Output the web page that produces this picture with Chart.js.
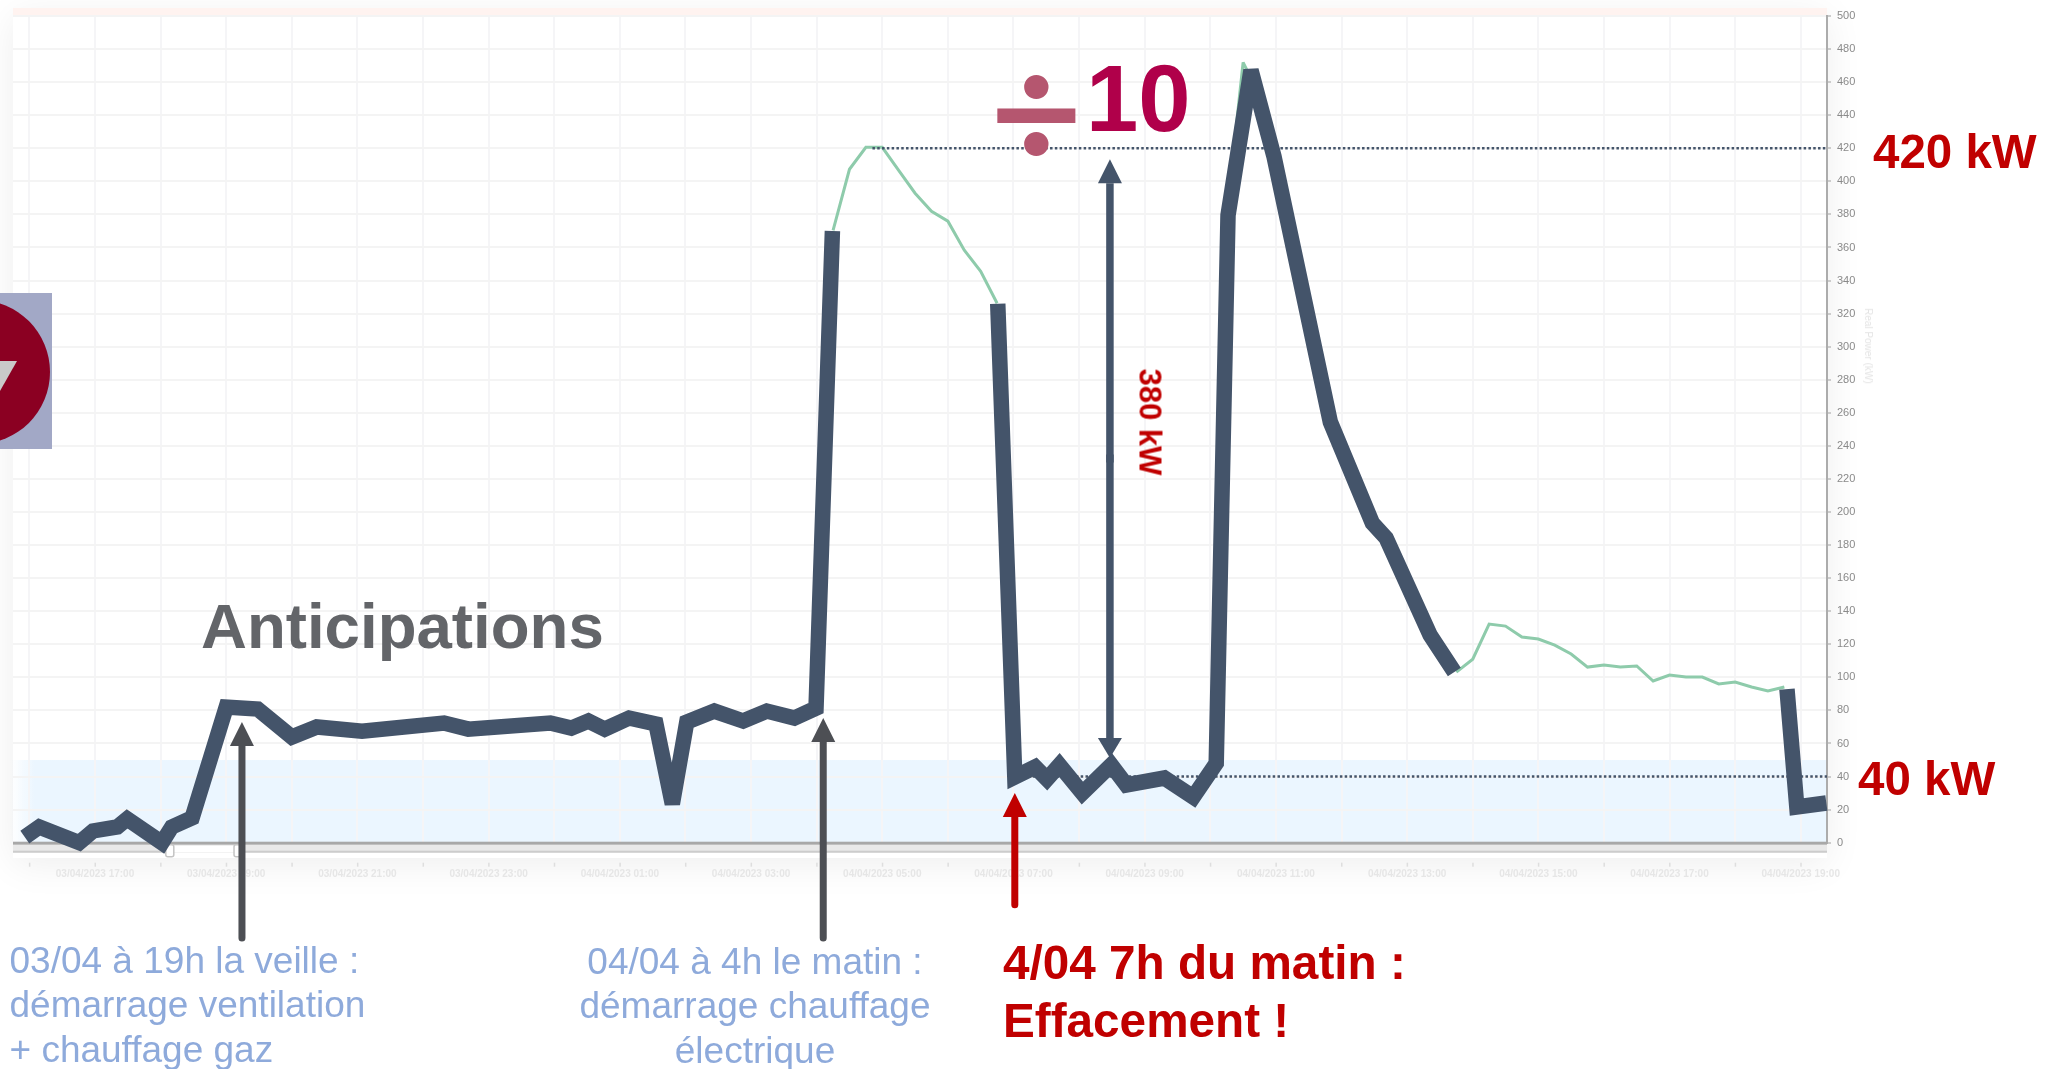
<!DOCTYPE html>
<html lang="fr">
<head>
<meta charset="utf-8">
<title>Effacement</title>
<script src="https://cdn.jsdelivr.net/npm/chart.js@4/dist/chart.umd.min.js"></script>
<style>
html,body{margin:0;padding:0;background:#fff;width:2064px;height:1069px;overflow:hidden;font-family:"Liberation Sans",Arial,sans-serif}
#shadow{position:absolute;left:13px;top:10px;width:1814px;height:848px;background:#fff;box-shadow:0 6px 36px rgba(0,0,0,.07)}
canvas{position:absolute;left:0;top:0}
.t{position:absolute;white-space:nowrap;line-height:1}
.b{font-weight:bold}
.red{color:#c00000}
.blue{color:#8eaadb;font-size:37px;line-height:44.5px}
</style>
</head>
<body>
<div id="shadow"></div>
<canvas id="c" width="2064" height="1069"></canvas>
<svg style="position:absolute;left:0;top:293px" width="52" height="156" viewBox="0 0 52 156">
<rect width="52" height="156" fill="#a2a8c6"/>
<circle cx="-22" cy="79" r="72" fill="#8b0022"/>
<polygon points="17,68 -20,68 -8,112" fill="#c9c9c9"/>
</svg>
<div class="t b" style="left:201px;top:594px;font-size:63.6px;color:#636569">Anticipations</div>
<div class="t b" style="left:990px;top:27px;font-size:160px;font-family:Lato,'Liberation Sans';color:#b5566f">÷</div>
<div class="t b" style="left:1086px;top:52px;font-size:94px;color:#b0004a">10</div>
<div class="t b red" style="left:1873px;top:128px;font-size:47.5px">420 kW</div>
<div class="t b red" style="left:1858px;top:755px;font-size:47.5px">40 kW</div>
<div class="t b red" style="left:1150px;top:422px;font-size:31px;transform:translate(-50%,-50%) rotate(90deg)">380 kW</div>
<div class="t blue" style="left:9.5px;top:938.5px">03/04 à 19h la veille :<br>démarrage ventilation<br>+ chauffage gaz</div>
<div class="t blue" style="left:505px;width:500px;text-align:center;top:939.5px">04/04 à 4h le matin :<br>démarrage chauffage<br>électrique</div>
<div class="t b red" style="left:1003px;top:933.5px;font-size:47.7px;line-height:58px">4/04 7h du matin :<br>Effacement !</div>
<div class="t" style="left:1868px;top:346px;font-size:10px;color:#e4e4e4;transform:translate(-50%,-50%) rotate(90deg)">Real Power (kW)</div>
<script>
// hours are counted from 03/04/2023 00:00
const tickHours = [16,17,18,19,20,21,22,23,24,25,26,27,28,29,30,31,32,33,34,35,36,37,38,39,40,41,42,43];
const tickLabels = ["","03/04/2023 17:00","","03/04/2023 19:00","","03/04/2023 21:00","","03/04/2023 23:00","","04/04/2023 01:00","","04/04/2023 03:00","","04/04/2023 05:00","","04/04/2023 07:00","","04/04/2023 09:00","","04/04/2023 11:00","","04/04/2023 13:00","","04/04/2023 15:00","","04/04/2023 17:00","","04/04/2023 19:00"];

const thickAHours = [15.93,16.15,16.76,16.97,17.34,17.49,18.02,18.17,18.48,19.0,19.48,20.0,20.38,21.07,22.32,22.69,23.94,24.26,24.52,24.77,25.14,25.55,25.80,26.02,26.44,26.88,27.24,27.66,27.99,28.24];
const thickAPower = [3.4,9.5,0,7.1,9.5,14.4,0,9.5,15,82,80.8,63.9,70,67.5,72.4,68.7,72.4,69.3,73.6,68.7,75.4,71.8,23.4,73,79.6,73.6,79.6,75.4,81.4,370];

const thickBHours = [30.76,31.02,31.33,31.51,31.70,32.05,32.49,32.72,33.30,33.74,34.09,34.27,34.62,34.97,35.83,36.47,36.68,37.35,37.72];
const thickBPower = [326,39.7,45.8,38.5,47,30,47,34.9,39.1,27.6,48,379.5,467.2,415.2,254.4,193.3,184.3,125.6,103.2];

const thickCHours = [42.79,42.94,43.39];
const thickCPower = [92.9,21.6,24];

const greenHours = [28.25,28.5,28.75,29,29.25,29.5,29.75,30,30.25,30.5,30.75,34.25,34.5,34.75,35,37.75,38,38.25,38.5,38.75,39,39.25,39.5,39.75,40,40.25,40.5,40.75,41,41.25,41.5,41.75,42,42.25,42.5,42.75];
const greenPower = [370.4,407.3,420.6,420.6,406.7,392.8,381.9,375.9,358.3,345.6,326.3,379.5,472,452,415,103.2,111,132.2,131,124.4,123.2,119.5,114.1,106.2,107.4,106.2,106.9,97.8,101.4,100.2,100.2,96,97.2,94.2,91.8,94.2];

const refHighHours = [28.85,43.4];
const refHighPower = [420,420];
const refLowHours = [31.0,43.4];
const refLowPower = [40,40];

// annotation arrows: [hour, tail kW, tip kW]
const greyArrows = [[19.24,-57.6,73],[28.10,-57.6,75.4]];
const redArrow = [31.02,-37.6,30];
const doubleArrow = [32.47,413.4,51.2];
const bandPower = [0,50];
const sliderHours = [18.14,19.18];

const pts = (xs,ys)=>xs.map((x,i)=>({x,y:ys[i]}));
const thick = d=>({data:d,borderColor:'#44546a',borderWidth:15.5,pointRadius:0,tension:0,clip:false,order:0,borderJoinStyle:'miter',borderCapStyle:'butt'});

function arrow(ctx,x,y1,y2,color,head,shaft,roundTail){
  const dir = y2<y1?1:-1;
  ctx.save();
  ctx.fillStyle=color;ctx.strokeStyle=color;ctx.lineWidth=shaft;ctx.lineCap=roundTail?'round':'butt';
  ctx.beginPath();ctx.moveTo(x,y1);ctx.lineTo(x,y2+dir*head);ctx.stroke();
  ctx.beginPath();ctx.moveTo(x,y2);ctx.lineTo(x-12,y2+dir*head);ctx.lineTo(x+12,y2+dir*head);ctx.closePath();ctx.fill();
  ctx.restore();
}

const decor = {
  id:'decor',
  beforeDraw(c){
    const {ctx,chartArea:a,scales:{y}}=c;
    ctx.save();
    ctx.fillStyle='#fff3f0';
    ctx.fillRect(a.left,a.top-8,a.right-a.left,8);
    const g=ctx.createLinearGradient(a.left-3,0,a.left+22,0);
    g.addColorStop(0,'rgba(235,246,255,0)');g.addColorStop(1,'#ebf6ff');
    ctx.fillStyle=g;
    const top=y.getPixelForValue(bandPower[1]),bot=y.getPixelForValue(bandPower[0]);
    ctx.fillRect(a.left-3,top,a.right-a.left+3,bot-top);
    ctx.restore();
  },
  beforeDatasetsDraw(c){
    const {ctx,chartArea:a,scales:{x}}=c;
    ctx.save();
    const bot=a.bottom;
    ctx.fillStyle='#e9e9e9';ctx.fillRect(a.left,bot+2,a.right-a.left,8);
    ctx.fillStyle='#a8a8a8';ctx.fillRect(a.left,bot-1,a.right-a.left,3);
    ctx.fillStyle='#cccccc';ctx.fillRect(a.left,bot+8,a.right-a.left,2);
    const s1=x.getPixelForValue(sliderHours[0]),s2=x.getPixelForValue(sliderHours[1]);
    ctx.fillStyle='#fff';ctx.fillRect(s1,bot+3,s2-s1,7);
    ctx.strokeStyle='#c4c4c4';ctx.lineWidth=1.5;ctx.fillStyle='#fff';
    [s1,s2].forEach(p=>{ctx.beginPath();ctx.roundRect(p-4,bot+2,8,12,2);ctx.fill();ctx.stroke();});
    ctx.fillStyle='#dedede';
    tickHours.forEach(h=>{ctx.fillRect(x.getPixelForValue(h)-.5,bot+20,1.5,4);});
    ctx.restore();
    ctx.miterLimit=2.6;
  },
  afterDatasetsDraw(c){
    const {ctx,scales:{x,y}}=c;
    greyArrows.forEach(([h,t,p])=>arrow(ctx,x.getPixelForValue(h),y.getPixelForValue(t),y.getPixelForValue(p),'#4d4f54',24,7,true));
    arrow(ctx,x.getPixelForValue(redArrow[0]),y.getPixelForValue(redArrow[1]),y.getPixelForValue(redArrow[2]),'#c00000',24,7,true);
    const dx=x.getPixelForValue(doubleArrow[0]),dt=y.getPixelForValue(doubleArrow[1]),db=y.getPixelForValue(doubleArrow[2]),mid=(dt+db)/2;
    arrow(ctx,dx,mid+4,dt,'#44546a',24,7.5,false);
    arrow(ctx,dx,mid-4,db,'#44546a',20,7.5,false);
  }
};

new Chart(document.getElementById('c'),{
  type:'line',
  plugins:[decor],
  data:{datasets:[
    thick(pts(thickAHours,thickAPower)),
    thick(pts(thickBHours,thickBPower)),
    thick(pts(thickCHours,thickCPower)),
    {data:pts(refHighHours,refHighPower),borderColor:'#44546a',borderWidth:2.5,borderDash:[2.5,2.3],pointRadius:0,order:1,clip:false},
    {data:pts(refLowHours,refLowPower),borderColor:'#44546a',borderWidth:2.5,borderDash:[2.5,2.3],pointRadius:0,order:1,clip:false},
    {data:pts(greenHours.slice(0,11),greenPower.slice(0,11)),borderColor:'#8ecbab',borderWidth:3,pointRadius:0,tension:0,order:2},
    {data:pts(greenHours.slice(11,15),greenPower.slice(11,15)),borderColor:'#8ecbab',borderWidth:3,pointRadius:0,tension:0,order:2},
    {data:pts(greenHours.slice(15),greenPower.slice(15)),borderColor:'#8ecbab',borderWidth:3,pointRadius:0,tension:0,order:2}
  ]},
  options:{
    responsive:false,animation:false,
    layout:{padding:{left:13,top:16,right:187,bottom:186.3}},
    plugins:{legend:{display:false},tooltip:{enabled:false},title:{display:false}},
    scales:{
      x:{type:'linear',min:15.75,max:43.4,
        afterFit:s=>{s.height=40;},
        afterBuildTicks:s=>{s.ticks=tickHours.map(v=>({value:v}));},
        grid:{color:'#f5f5f7',lineWidth:2,drawTicks:false},
        border:{display:false},
        ticks:{autoSkip:false,maxRotation:0,minRotation:0,padding:26,color:'#e6e6e6',font:{family:'"Liberation Sans"',size:10,weight:'bold'},
          callback:v=>tickLabels[tickHours.indexOf(v)]||''}
      },
      y:{type:'linear',position:'right',min:0,max:500,
        afterFit:s=>{s.width=50;},
        grid:{color:'#f4f4f4',lineWidth:2,tickLength:4,tickColor:'#cccccc'},
        border:{display:true,color:'#acacac',width:2},
        ticks:{stepSize:20,padding:6,color:'#8a8a8a',font:{family:'"Liberation Sans"',size:11}}
      }
    }
  }
});
</script>
</body>
</html>
